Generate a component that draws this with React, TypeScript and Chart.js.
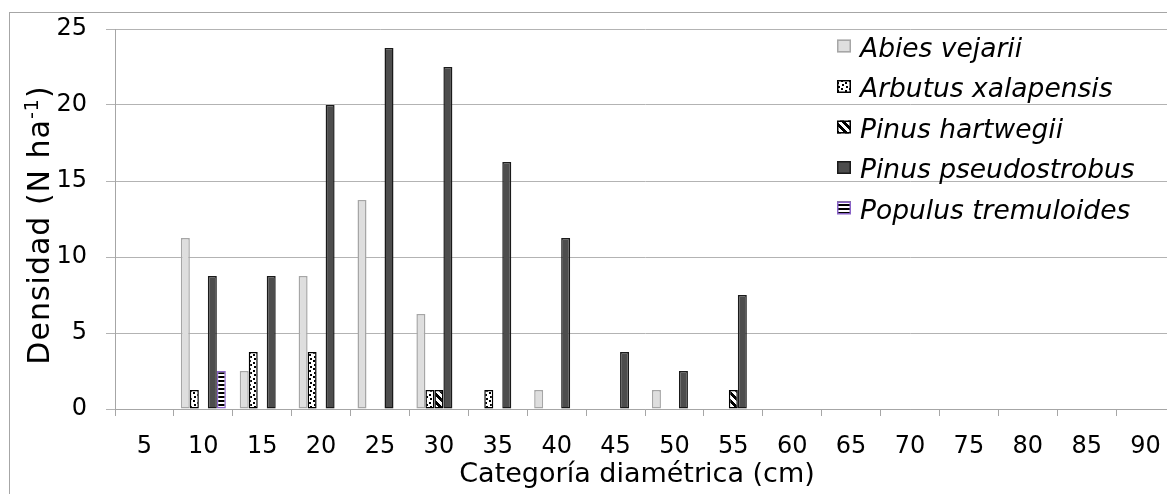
import { useEffect, useRef } from 'react';
import { Chart, registerables } from 'chart.js';

Chart.register(...registerables);

const categories = ['5', '10', '15', '20', '25', '30', '35', '40', '45', '50', '55', '60', '65', '70', '75', '80', '85', '90'];
const seriesNames = ['Abies vejarii', 'Arbutus xalapensis', 'Pinus hartwegii', 'Pinus pseudostrobus', 'Populus tremuloides'];
const abiesVejarii = [null, 11.25, 2.5, 8.75, 13.75, 6.25, null, 1.25, null, 1.25, null, null, null, null, null, null, null, null];
const arbutusXalapensis = [null, 1.25, 3.75, 3.75, null, 1.25, 1.25, null, null, null, null, null, null, null, null, null, null, null];
const pinusHartwegii = [null, null, null, null, null, 1.25, null, null, null, null, 1.25, null, null, null, null, null, null, null];
const pinusPseudostrobus = [null, 8.75, 8.75, 20, 23.75, 22.5, 16.25, 11.25, 3.75, 2.5, 7.5, null, null, null, null, null, null, null];
const populusTremuloides = [null, 2.5, null, null, null, null, null, null, null, null, null, null, null, null, null, null, null, null];
const yTicks = [0, 5, 10, 15, 20, 25];
const xTitle = 'Categoría diamétrica (cm)';
const yTitleMain = 'Densidad (N ha';
const yTitleSup = '-1';
const yTitleEnd = ')';

const FONT = '"DejaVu Sans", Verdana, sans-serif';

function makePattern(size: number, draw: (c: CanvasRenderingContext2D) => void): CanvasPattern | string {
  const cv = document.createElement('canvas');
  cv.width = size;
  cv.height = size;
  const c = cv.getContext('2d');
  if (!c) return '#ffffff';
  c.fillStyle = '#ffffff';
  c.fillRect(0, 0, size, size);
  c.fillStyle = '#000000';
  draw(c);
  return c.createPattern(cv, 'repeat') || '#ffffff';
}

export default function App() {
  const canvasRef = useRef<HTMLCanvasElement | null>(null);

  useEffect(() => {
    const canvas = canvasRef.current;
    if (!canvas) return;

    const confetti = makePattern(8, (c) => {
      c.fillRect(1, 0, 2, 2);
      c.fillRect(5, 2, 2, 2);
      c.fillRect(2, 4, 2, 2);
      c.fillRect(6, 6, 2, 2);
    });
    const diagonal = makePattern(8, (c) => {
      for (let y = 0; y < 8; y++) {
        for (let k = 0; k < 4; k++) {
          c.fillRect((y + k) % 8, y, 1, 1);
        }
      }
    });
    const hstripes = makePattern(4, (c) => {
      c.fillRect(0, 0, 4, 2);
    });

    const fills = ['#dedede', confetti, diagonal, '#4d4d4d', hstripes];
    const borders = ['#a6a6a6', '#000000', '#000000', '#1a1a1a', '#8a63c8'];
    const values = [abiesVejarii, arbutusXalapensis, pinusHartwegii, pinusPseudostrobus, populusTremuloides];

    const titlesPlugin = {
      id: 'titles',
      afterDraw(chart: any) {
        const ctx = chart.ctx;
        const area = chart.chartArea;
        ctx.save();
        ctx.fillStyle = '#000000';
        ctx.font = '27px ' + FONT;
        ctx.textAlign = 'center';
        ctx.textBaseline = 'alphabetic';
        ctx.fillText(xTitle, 637, 482);
        const mainFont = '30px ' + FONT;
        const supFont = '19px ' + FONT;
        try {
          ctx.letterSpacing = '1px';
        } catch (e) {
          /* ignore */
        }
        ctx.font = mainFont;
        const w1 = ctx.measureText(yTitleMain).width;
        const w3 = ctx.measureText(yTitleEnd).width;
        ctx.font = supFont;
        const w2 = ctx.measureText(yTitleSup).width;
        const total = w1 + w2 + w3;
        const cx = 49;
        const cy = (area.top + area.bottom) / 2 + 6;
        ctx.translate(cx, cy);
        ctx.rotate(-Math.PI / 2);
        ctx.textAlign = 'left';
        let x = -total / 2;
        ctx.font = mainFont;
        ctx.fillText(yTitleMain, x, 0);
        x += w1;
        ctx.font = supFont;
        ctx.fillText(yTitleSup, x, -11);
        x += w2;
        ctx.font = mainFont;
        ctx.fillText(yTitleEnd, x, 0);
        ctx.restore();
      },
    };

    const legendPlugin = {
      id: 'insideLegend',
      afterDraw(chart: any) {
        const ctx = chart.ctx;
        ctx.save();
        const x0 = 837;
        const y0 = 46;
        const step = 40.5;
        chart.data.datasets.forEach((ds: any, i: number) => {
          const cy = y0 + i * step;
          ctx.fillStyle = ds.backgroundColor;
          ctx.fillRect(x0, cy - 6.5, 14, 13);
          ctx.strokeStyle = ds.borderColor;
          ctx.lineWidth = 1.5;
          ctx.strokeRect(x0 + 0.75, cy - 5.75, 12.5, 11.5);
          ctx.fillStyle = '#000000';
          ctx.font = 'italic 26.5px ' + FONT;
          ctx.textBaseline = 'alphabetic';
          ctx.textAlign = 'left';
          ctx.fillText(ds.label, 860, cy + 10.5);
        });
        ctx.restore();
      },
    };

    const chart = new Chart(canvas, {
      type: 'bar',
      data: {
        labels: categories,
        datasets: seriesNames.map((name, i) => ({
          label: name,
          data: values[i],
          backgroundColor: fills[i] as any,
          borderColor: borders[i],
          borderWidth: 1.5,
          borderSkipped: false,
          categoryPercentage: 0.764,
          barPercentage: 1.0,
        })),
      },
      options: {
        responsive: false,
        animation: false,
        devicePixelRatio: 1,
        layout: { padding: { left: 0, top: 29, right: 15, bottom: 0 } },
        plugins: {
          legend: { display: false },
          tooltip: { enabled: false },
        },
        scales: {
          x: {
            offset: true,
            grid: {
              offset: true,
              drawOnChartArea: false,
              drawTicks: true,
              tickLength: 7,
              color: '#a6a6a6',
              lineWidth: 1,
            },
            border: { display: true, color: '#a6a6a6', width: 1 },
            ticks: {
              color: '#000000',
              font: { family: FONT, size: 24 },
              padding: 16,
              maxRotation: 0,
              autoSkip: false,
            },
            afterFit(scale: any) {
              scale.height = 85;
              scale.paddingLeft = 0;
              scale.paddingRight = 0;
            },
          },
          y: {
            min: 0,
            max: 25,
            afterBuildTicks(scale: any) {
              scale.ticks = yTicks.map((v) => ({ value: v }));
            },
            grid: {
              color: '#b3b3b3',
              lineWidth: 1,
              tickLength: 9,
            },
            border: { display: true, color: '#a6a6a6', width: 1 },
            ticks: {
              color: '#000000',
              font: { family: FONT, size: 24 },
              padding: 19,
            },
            afterFit(scale: any) {
              scale.width = 115;
              scale.paddingTop = 0;
              scale.paddingBottom = 0;
            },
          },
        },
      },
      plugins: [titlesPlugin, legendPlugin],
    });

    return () => {
      chart.destroy();
    };
  }, []);

  return (
    <div style={{ position: 'fixed', left: 0, top: 0, width: 1167, height: 494, overflow: 'hidden', background: '#ffffff' }}>
      <canvas ref={canvasRef} width={1190} height={494} style={{ display: 'block', position: 'absolute', left: 0, top: 0 }} />
      <div
        style={{
          position: 'absolute',
          left: 9,
          top: 12,
          width: 2000,
          height: 2000,
          borderLeft: '1px solid #a6a6a6',
          borderTop: '1px solid #a6a6a6',
          pointerEvents: 'none',
        }}
      />
    </div>
  );
}
